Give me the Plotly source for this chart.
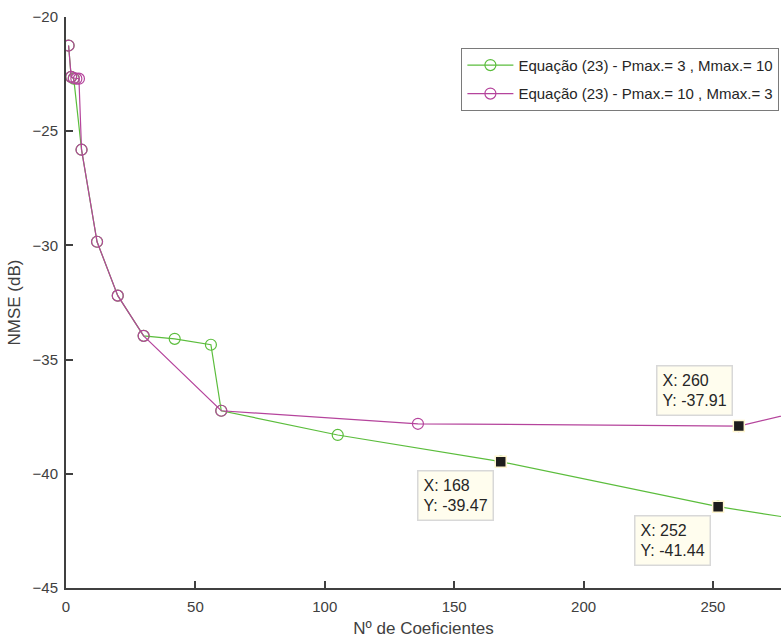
import plotly.graph_objects as go

# Series: Pmax=3, Mmax=10 (green)
g_x = [1, 2, 3, 6, 12, 20, 30, 42, 56, 60, 105, 168, 252, 300]
g_y = [-21.25, -22.62, -22.70, -25.81, -29.84, -32.20, -33.96, -34.09, -34.35, -37.24, -38.30, -39.47, -41.44, -42.29]

# Series: Pmax=10, Mmax=3 (magenta)
m_x = [1, 2, 3, 4, 5, 6, 12, 20, 30, 60, 136, 260, 300]
m_y = [-21.25, -22.62, -22.67, -22.70, -22.70, -25.81, -29.84, -32.20, -33.96, -37.24, -37.81, -37.91, -36.83]

# Data tips
tip_x = [168, 252, 260]
tip_y = [-39.47, -41.44, -37.91]

names = ["Equação (23) - Pmax.= 3 , Mmax.= 10", "Equação (23) - Pmax.= 10 , Mmax.= 3"]
green = "#5BBD3C"
magenta = "#B5449C"
font = "Liberation Sans, Arial, sans-serif"
axc = "#404040"

fig = go.Figure()
fig.add_trace(go.Scatter(x=g_x, y=g_y, mode="lines+markers", name=names[0], legendgroup="g",
                         line=dict(color=green, width=1.2),
                         marker=dict(symbol="circle-open", size=11, color=green, line=dict(width=1.2))))
fig.add_trace(go.Scatter(x=m_x, y=m_y, mode="lines+markers", name=names[1], legendgroup="m",
                         line=dict(color=magenta, width=1.2),
                         marker=dict(symbol="circle-open", size=11, color=magenta, line=dict(width=1.2))))
fig.add_trace(go.Scatter(x=tip_x, y=tip_y, mode="markers", showlegend=False,
                         marker=dict(symbol="square", size=11, color="#1E1C1C",
                                     line=dict(color="#FFF6D0", width=1.5))))

# tip annotations: (xanchor, yanchor, xshift, yshift)
tip_pos = [("right", "top", -7, -8), ("right", "top", -7, -8), ("right", "bottom", -6, 10)]
for tx, ty, (xa, ya, xs, ys) in zip(tip_x, tip_y, tip_pos):
    fig.add_annotation(x=tx, y=ty, xref="x", yref="y", showarrow=False,
                       text=f"X: {tx}<br>Y: {ty:.2f}", align="left",
                       xanchor=xa, yanchor=ya, xshift=xs, yshift=ys,
                       bgcolor="#FFFDEE", bordercolor="#D8D8D8", borderwidth=1.5, borderpad=5,
                       font=dict(family=font, size=16, color="#262626"))

fig.update_layout(
    width=781, height=638,
    margin=dict(l=66, r=0, t=17, b=50, autoexpand=False),
    paper_bgcolor="white", plot_bgcolor="white",
    font=dict(family=font, size=15, color=axc),
    showlegend=True,
    legend=dict(x=0.553, y=0.946, xanchor="left", yanchor="top",
                bgcolor="white", bordercolor="#7A7A7A", borderwidth=1,
                font=dict(family=font, size=15, color="#262626"),
                itemwidth=46, tracegroupgap=6),
    xaxis=dict(range=[0, 276.3], tickvals=[0, 50, 100, 150, 200, 250],
               showgrid=False, zeroline=False, showline=True, linecolor=axc, linewidth=2,
               ticks="inside", ticklen=7, tickwidth=1.5, tickcolor=axc, ticklabelstandoff=4,
               tickfont=dict(family=font, size=15, color=axc),
               title=dict(text="Nº de Coeficientes", font=dict(family=font, size=17, color=axc), standoff=10)),
    yaxis=dict(range=[-45, -20], tickvals=[-45, -40, -35, -30, -25, -20],
               showgrid=False, zeroline=False, showline=True, linecolor=axc, linewidth=2,
               ticks="inside", ticklen=7, tickwidth=1.5, tickcolor=axc, ticklabelstandoff=3,
               tickfont=dict(family=font, size=15, color=axc),
               title=dict(text="NMSE (dB)", font=dict(family=font, size=17, color=axc), standoff=8)),
)

fig.write_html("out.html")
